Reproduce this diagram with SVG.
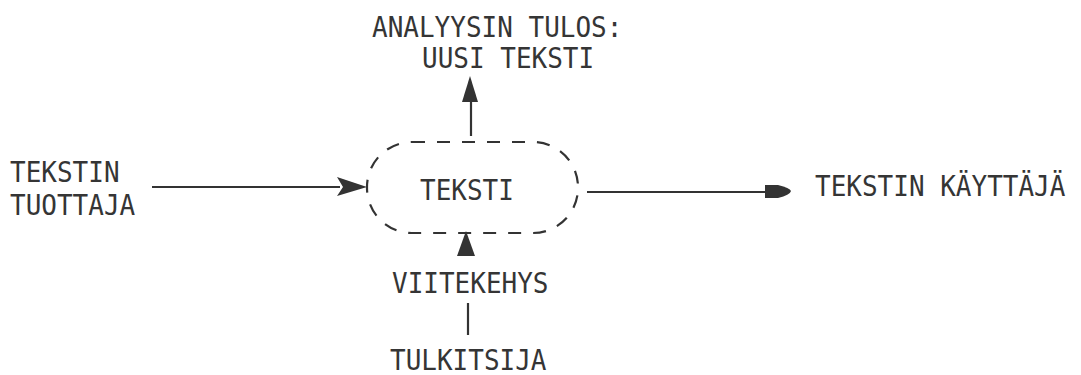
<svg xmlns="http://www.w3.org/2000/svg" width="1081" height="375" viewBox="0 0 1081 375">
<style>
text{font-family:"DejaVu Sans Mono","Liberation Mono",monospace;font-size:26px;fill:#353535}
.ln{stroke:#333;stroke-width:2.2;fill:none}
.ah{fill:#333}
</style>
<rect width="1081" height="375" fill="#fff"/>
<g id="connectors">
<line class="ln" x1="152" y1="187" x2="340" y2="187"/>
<path class="ah" d="M337,177 L367,187 L337,196 L343,187 Z"/>
<line class="ln" x1="587" y1="192" x2="768" y2="192"/>
<path class="ah" d="M765,185 L778,185 Q790,188 791,191 Q790,195 778,198 L765,198 Z"/>
<line class="ln" x1="471" y1="100" x2="471" y2="136"/>
<path class="ah" d="M462,102 L470,76 L478,102 Z"/>
<path class="ah" d="M457,256 L466,231 L475,256 Z"/>
<line class="ln" x1="468" y1="303" x2="468" y2="335"/>
</g>
<g id="node-teksti">
<rect x="367" y="142" width="211" height="91" rx="45" ry="45" fill="none" stroke="#333" stroke-width="2.2" stroke-dasharray="13,12"/>
<text transform="translate(420,200) scale(1,1.1)">TEKSTI</text>
</g>
<g id="node-tuottaja">
<text transform="translate(10,182) scale(1,1.1)">TEKSTIN</text>
<text transform="translate(10,215) scale(1,1.1)">TUOTTAJA</text>
</g>
<g id="node-kayttaja">
<text transform="translate(815,196) scale(1,1.1)">TEKSTIN KÄYTTÄJÄ</text>
</g>
<g id="node-tulos">
<text transform="translate(372,37) scale(1,1.1)">ANALYYSIN TULOS:</text>
<text transform="translate(422,68) scale(1,1.1)">UUSI TEKSTI</text>
</g>
<g id="node-viitekehys">
<text transform="translate(392,293) scale(1,1.1)">VIITEKEHYS</text>
</g>
<g id="node-tulkitsija">
<text transform="translate(390,370) scale(1,1.1)">TULKITSIJA</text>
</g>
</svg>
